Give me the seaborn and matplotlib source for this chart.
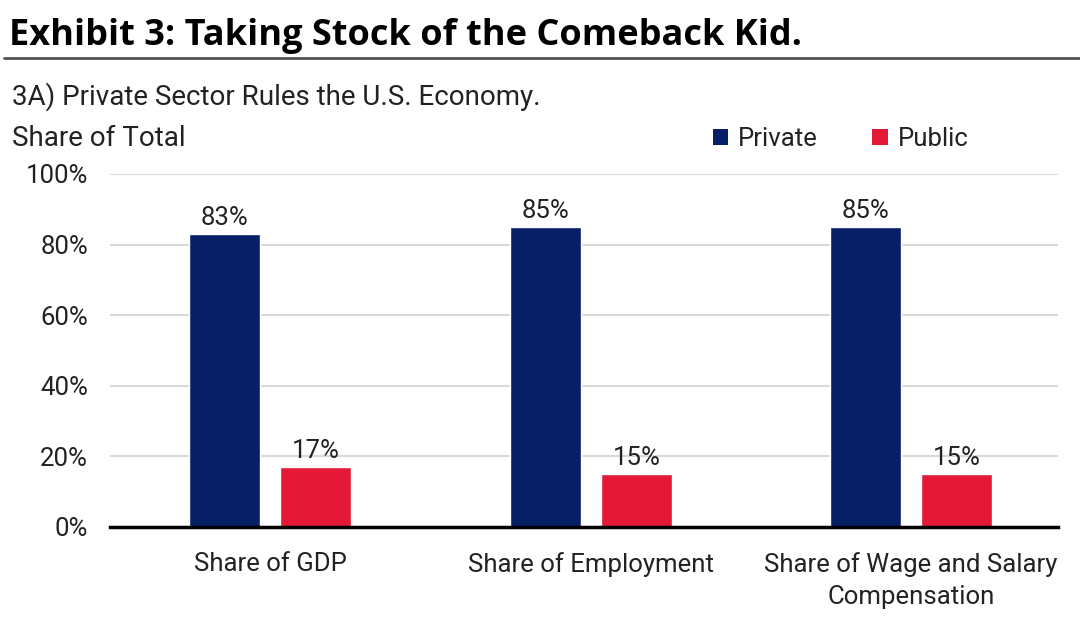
import pandas as pd
import matplotlib.pyplot as plt
import seaborn as sns
from matplotlib.lines import Line2D
from matplotlib.patches import Patch

sns.set_theme(style="white")
plt.rcParams["font.family"] = ["Roboto", "DejaVu Sans"]

categories = [
    "Share of GDP",
    "Share of Employment",
    "Share of Wage and Salary\nCompensation"
]
private_share = [83, 85, 85]
public_share = [17, 15, 15]
series_names = ["Private", "Public"]
y_ticks = [0, 20, 40, 60, 80, 100]

colors = {"Private": "#061f66", "Public": "#e31937"}

df = pd.DataFrame({
    "Category": categories * 2,
    "Sector": ["Private"] * 3 + ["Public"] * 3,
    "Share": private_share + public_share
})

fig = plt.figure(figsize=(10.8, 6.27), dpi=100)
ax = fig.add_axes([0.102, 0.1595, 0.878, 0.563])

sns.barplot(
    data=df,
    x="Category",
    y="Share",
    hue="Sector",
    hue_order=series_names,
    palette=colors,
    width=0.569,
    gap=0.22,
    saturation=1,
    ax=ax,
    legend=False
)

for container in ax.containers:
    ax.bar_label(
        container,
        labels=[f"{v:.0f}%" for v in container.datavalues],
        padding=3,
        fontsize=18.5,
        color="#222222"
    )

ax.set_ylim(0, 100)
ax.set_xlim(-0.5, 2.46)
ax.set_yticks(y_ticks)
ax.set_yticklabels([f"{t}%" for t in y_ticks])
ax.set_xlabel("")
ax.set_ylabel("")
ax.tick_params(axis="both", labelsize=18.5, colors="#222222", length=0)
ax.tick_params(axis="y", pad=16)
ax.tick_params(axis="x", pad=18)
for lbl in ax.get_xticklabels():
    lbl.set_linespacing(1.45)
ax.yaxis.grid(True, color="#d9d9d9", linewidth=1.5)
ax.set_axisbelow(True)
for side in ["left", "right", "top"]:
    ax.spines[side].set_visible(False)
ax.spines["bottom"].set_color("black")
ax.spines["bottom"].set_linewidth(2.5)

handles = [Patch(facecolor=colors[s], edgecolor="none") for s in series_names]
ax.legend(
    handles,
    series_names,
    loc="lower left",
    bbox_to_anchor=(0.611, 1.0),
    ncol=2,
    frameon=False,
    fontsize=18.5,
    handlelength=0.6,
    handleheight=0.6,
    handletextpad=0.4,
    columnspacing=2.1,
    labelcolor="#222222"
)

fig.text(0.008, 0.928, "Exhibit 3: Taking Stock of the Comeback Kid.",
         fontsize=26, fontweight="bold", color="black", va="baseline",
         family=["Open Sans", "DejaVu Sans"])
fig.add_artist(Line2D([0.004, 1.0], [0.907, 0.907], color="#555555", linewidth=2))
fig.text(0.011, 0.8325, "3A) Private Sector Rules the U.S. Economy.",
         fontsize=20, color="#222222", va="baseline")
fig.text(0.011, 0.767, "Share of Total",
         fontsize=20, color="#222222", va="baseline")

fig.savefig("out.png", dpi=100)
